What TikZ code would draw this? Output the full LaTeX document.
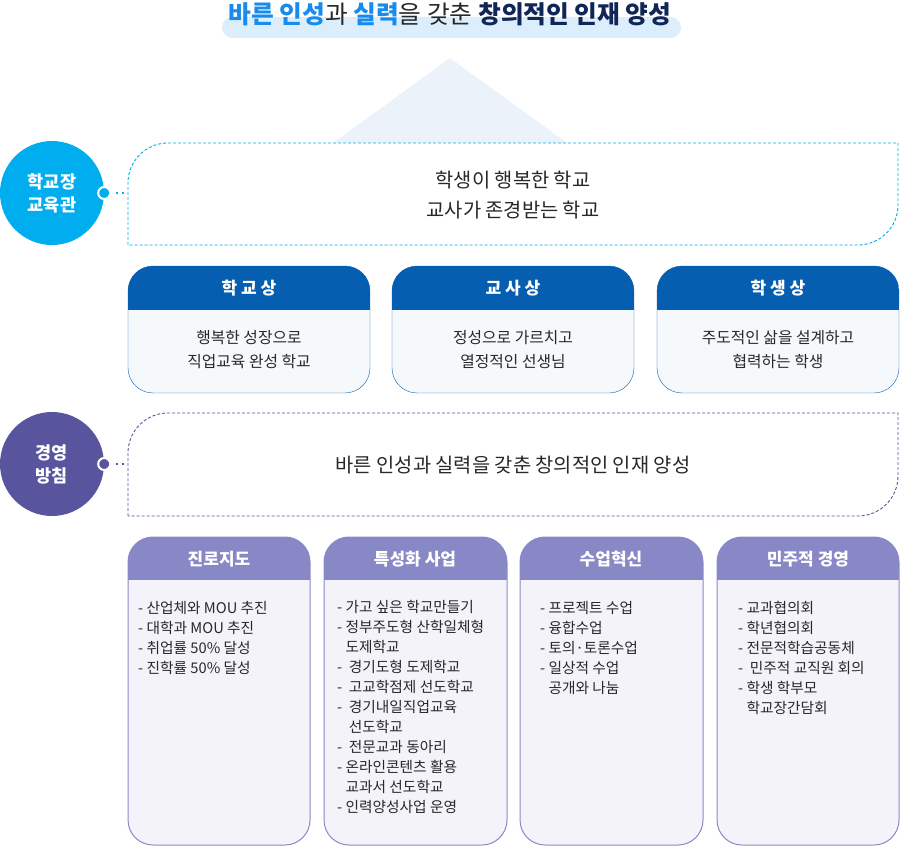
\documentclass[tikz,border=0pt]{standalone}
\usepackage{fontspec}
\setmainfont{Noto Sans CJK KR}
\definecolor{skyblue}{RGB}{0,174,239}
\definecolor{titleblue}{RGB}{24,140,238}
\definecolor{titlenavy}{RGB}{16,38,86}
\definecolor{deepblue}{RGB}{6,94,176}
\definecolor{violet}{RGB}{88,84,158}
\definecolor{lavender}{RGB}{137,136,198}
\definecolor{ink}{RGB}{40,40,40}
\colorlet{banner}{titleblue!15}
\colorlet{roof}{deepblue!8}
\colorlet{bluefill}{deepblue!4}
\colorlet{violetfill}{lavender!10}
\usepackage{tikz}

\begin{document}
\begin{tikzpicture}[x=1pt, y=-1pt,
  badge/.style={circle, minimum size=104pt, inner sep=0, text=white, align=center,
    font=\fontsize{17.5}{23}\selectfont\bfseries},
  knob/.style={circle, minimum size=12pt, inner sep=0, draw=white, line width=2pt},
  link/.style={line width=2pt, dash pattern=on 2pt off 4pt, shorten <=5pt, shorten >=3pt},
  frame/.style={line width=0.9pt, dash pattern=on 3pt off 2pt},
  big/.style={font=\fontsize{19.8}{30}\selectfont, text=ink, align=center},
  head/.style={font=\fontsize{17}{20}\selectfont\bfseries, text=white},
  body/.style={font=\fontsize{15.8}{24}\selectfont, text=ink, align=center},
  list/.style={font=\fontsize{14.7}{20}\selectfont, text=ink, align=left, anchor=north west, inner sep=0}]

\useasboundingbox (0,0) rectangle (900,861);

% --- Title ---
\fill[banner, rounded corners=10.5pt] (222,17) rectangle (681,38);
\node[font=\fontsize{24.7}{28}\selectfont\bfseries] (title) at (450,14)
  {{\color{titleblue}바른 인성}{\mdseries\color{ink}과} {\color{titleblue}실력}{\mdseries\color{ink}을 갖춘} {\color{titlenavy}창의적인 인재 양성}};

% --- Roof ---
\fill[roof] (333,143) -- (450,58) -- (567,143) -- cycle;

% --- Vision row ---
\fill[white] (128,143) rectangle (898,245);
\draw[frame, skyblue] (128,245) [rounded corners=40pt] -- (128,143)
  [sharp corners] -- (898,143) [rounded corners=40pt] -- (898,245) [sharp corners] -- (128,245) -- cycle;
\node[badge, fill=skyblue] (headView) at (52,193) {학교장\\교육관};
\node[knob, fill=skyblue] (headKnob) at (headView.east) {};
\coordinate (visionEdge) at (128,193);
\draw[link, skyblue] (headKnob.east) -- (visionEdge);
\node[big] (vision) at (513,195) {학생이 행복한 학교\\교사가 존경받는 학교};

% --- Three portraits (blue) ---
% 1. school
\begin{scope}
  \clip[rounded corners=25pt] (128,266) rectangle (370,393);
  \fill[bluefill] (128,266) rectangle (370,393);
  \fill[deepblue] (128,266) rectangle (370,310);
\end{scope}
\draw[deepblue, rounded corners=25pt] (128,266) rectangle (370,393);
\node[head] (schoolHead) at (249,288) {학\ 교\ 상};
\node[body] (schoolText) at (249,350) {행복한 성장으로\\직업교육 완성 학교};

% 2. teacher
\begin{scope}
  \clip[rounded corners=25pt] (392,266) rectangle (634,393);
  \fill[bluefill] (392,266) rectangle (634,393);
  \fill[deepblue] (392,266) rectangle (634,310);
\end{scope}
\draw[deepblue, rounded corners=25pt] (392,266) rectangle (634,393);
\node[head] (teacherHead) at (513,288) {교\ 사\ 상};
\node[body] (teacherText) at (513,350) {정성으로 가르치고\\열정적인 선생님};

% 3. student
\begin{scope}
  \clip[rounded corners=25pt] (657,266) rectangle (899,393);
  \fill[bluefill] (657,266) rectangle (899,393);
  \fill[deepblue] (657,266) rectangle (899,310);
\end{scope}
\draw[deepblue, rounded corners=25pt] (657,266) rectangle (899,393);
\node[head] (studentHead) at (778,288) {학\ 생\ 상};
\node[body] (studentText) at (778,350) {주도적인 삶을 설계하고\\협력하는 학생};

% --- Principle row ---
\draw[frame, violet] (128,516) [rounded corners=40pt] -- (128,413)
  [sharp corners] -- (898,413) [rounded corners=40pt] -- (898,516) [sharp corners] -- (128,516) -- cycle;
\node[badge, fill=violet] (policy) at (52,464) {경영\\방침};
\node[knob, fill=violet] (policyKnob) at (policy.east) {};
\coordinate (principleEdge) at (128,464);
\draw[link, violet] (policyKnob.east) -- (principleEdge);
\node[big] (principle) at (513,465) {바른 인성과 실력을 갖춘 창의적인 인재 양성};

% --- Four tasks (violet) ---
% 1. career
\begin{scope}
  \clip[rounded corners=25pt] (128,537) rectangle (310,845);
  \fill[violetfill] (128,537) rectangle (310,845);
  \fill[lavender] (128,537) rectangle (310,580);
\end{scope}
\draw[lavender, line width=1pt, rounded corners=25pt] (128,537) rectangle (310,845);
\node[head] (careerHead) at (219,559) {진로지도};
\node[list] (careerList) at (138,601) {- 산업체와 MOU 추진\\- 대학과 MOU 추진\\- 취업률 50\% 달성\\- 진학률 50\% 달성};

% 2. special projects
\begin{scope}
  \clip[rounded corners=25pt] (324,537) rectangle (507,845);
  \fill[violetfill] (324,537) rectangle (507,845);
  \fill[lavender] (324,537) rectangle (507,580);
\end{scope}
\draw[lavender, line width=1pt, rounded corners=25pt] (324,537) rectangle (507,845);
\node[head] (projectHead) at (415,559) {특성화 사업};
\node[list] (projectList) at (337,600) {- 가고 싶은 학교만들기\\- 정부주도형 산학일체형\\\phantom{- }도제학교\\- \ 경기도형 도제학교\\- \ 고교학점제 선도학교\\- \ 경기내일직업교육\\\phantom{- \ }선도학교\\- \ 전문교과 동아리\\- 온라인콘텐츠 활용\\\phantom{- }교과서 선도학교\\- 인력양성사업 운영};

% 3. class innovation
\begin{scope}
  \clip[rounded corners=25pt] (520,537) rectangle (703,845);
  \fill[violetfill] (520,537) rectangle (703,845);
  \fill[lavender] (520,537) rectangle (703,580);
\end{scope}
\draw[lavender, line width=1pt, rounded corners=25pt] (520,537) rectangle (703,845);
\node[head] (classHead) at (611,559) {수업혁신};
\node[list] (classList) at (540,601) {- 프로젝트 수업\\- 융합수업\\- 토의·토론수업\\- 일상적 수업\\\phantom{- }공개와 나눔};

% 4. democratic management
\begin{scope}
  \clip[rounded corners=25pt] (717,537) rectangle (899,845);
  \fill[violetfill] (717,537) rectangle (899,845);
  \fill[lavender] (717,537) rectangle (899,580);
\end{scope}
\draw[lavender, line width=1pt, rounded corners=25pt] (717,537) rectangle (899,845);
\node[head] (democHead) at (808,559) {민주적 경영};
\node[list] (democList) at (738,601) {- 교과협의회\\- 학년협의회\\- 전문적학습공동체\\- \ 민주적 교직원 회의\\- 학생 학부모\\\phantom{- }학교장간담회};

\end{tikzpicture}
\end{document}
